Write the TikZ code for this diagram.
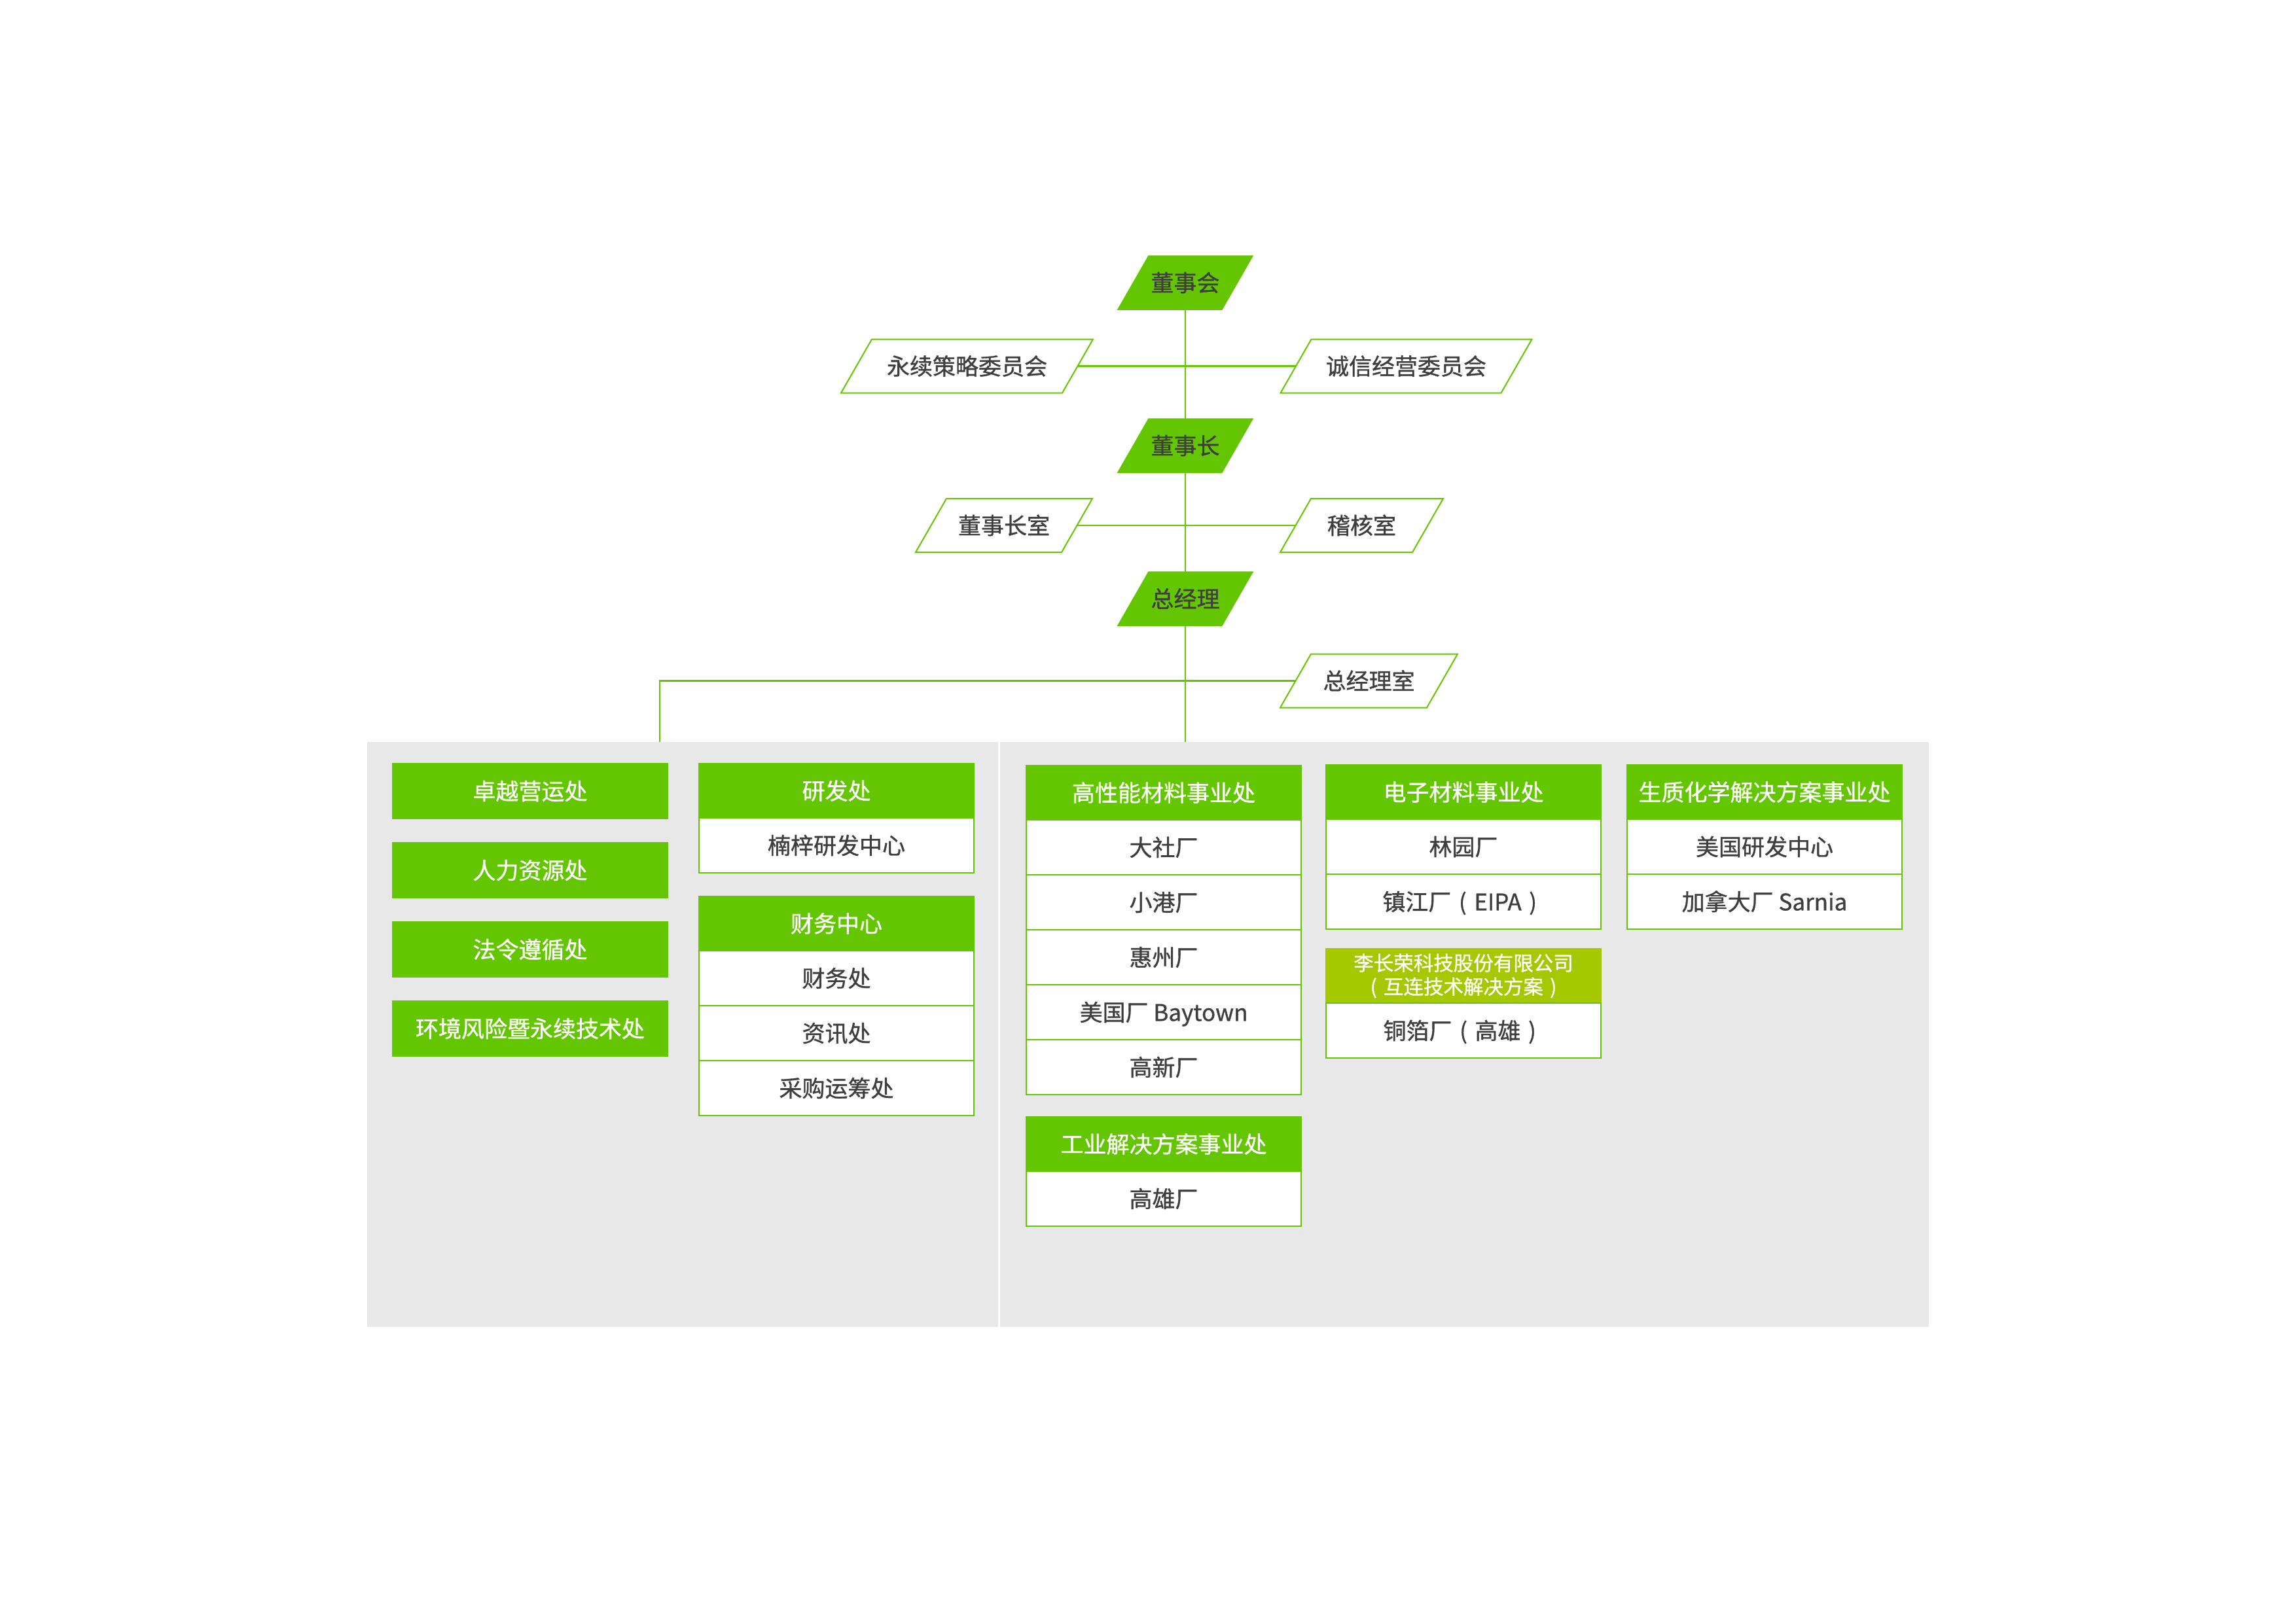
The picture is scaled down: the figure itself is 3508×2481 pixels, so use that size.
\documentclass[tikz,border=0pt]{standalone}
\usepackage{fontspec}
\setmainfont{Noto Sans CJK SC}[UprightFeatures={FakeBold=0.9}]
\usetikzlibrary{positioning}
\definecolor{mgreen}{HTML}{63C600}
\definecolor{olive}{HTML}{A6C800}
\definecolor{panelgray}{HTML}{E8E8E8}
\definecolor{dtext}{HTML}{3E3E3E}
\newcommand\lpar{\makebox[1em][c]{(}}
\newcommand\rpar{\makebox[1em][c]{)}}
\tikzset{
  conn/.style={draw=mgreen,line width=2.5pt},
  ptext/.style={rectangle,inner sep=0pt,outer sep=0pt,minimum height=82pt,text=dtext,
     font=\fontsize{35}{40}\selectfont,text height=30.8pt,text depth=4.2pt},
  pfill/.style={fill=mgreen,draw=mgreen,line width=1.5pt},
  pwhite/.style={fill=white,draw=mgreen,line width=2pt},
  hdr/.style={rectangle,anchor=north west,inner sep=0pt,outer sep=0pt,minimum width=420pt,minimum height=83pt,
     fill=mgreen,draw=mgreen,line width=2pt,text=white,font=\fontsize{35}{40}\selectfont,text height=30.8pt,text depth=4.2pt},
  rowbox/.style={rectangle,inner sep=0pt,outer sep=0pt,minimum width=420pt,minimum height=84pt,
     fill=white,draw=mgreen,line width=2pt,text=dtext,font=\fontsize{35}{40}\selectfont,text height=30.8pt,text depth=4.2pt},
}
% #1 name, #2 cx, #3 cy, #4 mid width, #5 style, #6 text
\newcommand\paral[6]{%
  \path[#5] ({#2-#4/2+23.5},{#3-41}) -- ({#2+#4/2+23.5},{#3-41}) -- ({#2+#4/2-23.5},{#3+41}) -- ({#2-#4/2-23.5},{#3+41}) -- cycle;
  \node[ptext,minimum width={#4*1pt}] (#1) at (#2,#3) {#6};
}
\begin{document}
\begin{tikzpicture}[x=1pt,y=-1pt]
\useasboundingbox[fill=white] (0,0) rectangle (3508,2481);

% gray panel
\node[rectangle,anchor=north west,fill=panelgray,inner sep=0pt,outer sep=0pt,minimum width=2386pt,minimum height=894pt] (panel) at (561,1134) {};
\coordinate (divtop) at (1526,1134);
\draw[white,line width=3pt] (divtop) -- (divtop |- panel.south);

% top hierarchy
\paral{dsh}{1811}{432}{159}{pfill}{董事会}
\paral{yx}{1477.5}{559.5}{338}{pwhite}{永续策略委员会}
\paral{cx}{2148.5}{559.5}{337}{pwhite}{诚信经营委员会}
\paral{dsz}{1811}{681}{159}{pfill}{董事长}
\paral{dszs}{1534}{803}{223}{pwhite}{董事长室}
\paral{jhs}{2080.5}{803}{202}{pwhite}{稽核室}
\paral{zjl}{1811}{915}{159}{pfill}{总经理}
\paral{zjls}{2091.5}{1040.5}{224}{pwhite}{总经理室}

\coordinate (lb) at (1008,1040.5);
\draw[conn] (dsh.south) -- (dsz.north);
\draw[conn] (dsz.south) -- (zjl.north);
\draw[conn] (zjl.south) -- (zjl.south |- panel.north);
\draw[conn] (yx.east) -- (cx.west);
\draw[conn] (dszs.east) -- (jhs.west);
\draw[conn] (zjls.west) -- (lb) -- (lb |- panel.north);

% column A
\node[hdr,minimum height=84pt] (a1) at (600,1167) {卓越营运处};
\node[hdr,minimum height=84pt] (a2) at (600,1288) {人力资源处};
\node[hdr,minimum height=84pt] (a3) at (600,1409) {法令遵循处};
\node[hdr,minimum height=84pt] (a4) at (600,1530) {环境风险暨永续技术处};

% column B
\node[hdr] (yf) at (1068,1167) {研发处};
\node[rowbox,below=0pt of yf] (nz) {楠梓研发中心};
\node[hdr] (cw) at (1068,1370) {财务中心};
\node[rowbox,below=0pt of cw] (cwc) {财务处};
\node[rowbox,below=0pt of cwc] (zx) {资讯处};
\node[rowbox,below=0pt of zx] (cg) {采购运筹处};

% column C
\node[hdr] (gxn) at (1568,1170) {高性能材料事业处};
\node[rowbox,below=0pt of gxn] (ds) {大社厂};
\node[rowbox,below=0pt of ds] (xg) {小港厂};
\node[rowbox,below=0pt of xg] (hz) {惠州厂};
\node[rowbox,below=0pt of hz] (bt) {美国厂 Baytown};
\node[rowbox,below=0pt of bt] (gx) {高新厂};
\node[hdr] (gy) at (1568,1707) {工业解决方案事业处};
\node[rowbox,below=0pt of gy] (gxc) {高雄厂};

% column D
\node[hdr] (dz) at (2026,1169) {电子材料事业处};
\node[rowbox,below=0pt of dz] (ly) {林园厂};
\node[rowbox,below=0pt of ly] (zj) {镇江厂\lpar EIPA\rpar};
\node[hdr,fill=olive,draw=olive,align=center,font=\fontsize{30.5}{36}\selectfont,text height=,text depth=] (lcr) at (2026,1450) {李长荣科技股份有限公司\\\lpar 互连技术解决方案\rpar};
\node[rowbox,below=0pt of lcr] (tb) {铜箔厂\lpar 高雄\rpar};

% column E
\node[hdr] (sz) at (2486,1169) {生质化学解决方案事业处};
\node[rowbox,below=0pt of sz] (mg) {美国研发中心};
\node[rowbox,below=0pt of mg] (jnd) {加拿大厂 Sarnia};
\end{tikzpicture}
\end{document}
